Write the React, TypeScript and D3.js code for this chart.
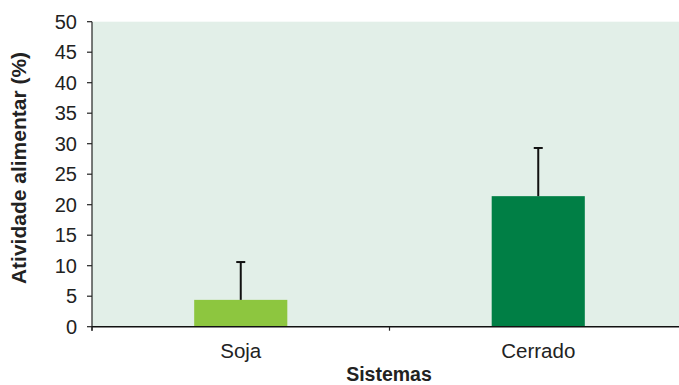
import React from "react";
import * as d3 from "d3";

const categories = ["Soja", "Cerrado"];
const values = [4.4, 21.4];
const errors = [6.2, 7.9];
const barColors = ["#8dc63f", "#007f45"];
const yTicks = [0, 5, 10, 15, 20, 25, 30, 35, 40, 45, 50];

const W = 679;
const H = 385;
const margin = { left: 92, right: -8, top: 21.7, bottom: 58.3 };

export default function App() {
  const x = d3
    .scaleBand()
    .domain(categories)
    .range([margin.left, W - margin.right])
    .paddingInner(0)
    .paddingOuter(0);
  const y = d3.scaleLinear().domain([0, 50]).range([H - margin.bottom, margin.top]);
  const barW = x.bandwidth() * 0.313;
  const y0 = y(0);
  const font = "'Liberation Sans', Arial, sans-serif";

  return (
    <svg
      width={W}
      height={H}
      style={{ position: "absolute", left: 0, top: 0, display: "block" }}
      fontFamily={font}
    >
      <rect x={margin.left} y={margin.top} width={W - margin.left} height={y0 - margin.top} fill="#e2efe8" />
      {categories.map((c, i) => {
        const cx = x(c)! + x.bandwidth() / 2;
        return (
          <g key={c}>
            <rect x={cx - barW / 2} y={y(values[i])} width={barW} height={y0 - y(values[i])} fill={barColors[i]} />
            <line x1={cx} x2={cx} y1={y(values[i])} y2={y(values[i] + errors[i])} stroke="#111" strokeWidth={2} />
            <line x1={cx - 4.5} x2={cx + 4.5} y1={y(values[i] + errors[i])} y2={y(values[i] + errors[i])} stroke="#111" strokeWidth={2} />
            <text x={cx} y={357.5} textAnchor="middle" fontSize={20.5} fill="#222">{c}</text>
          </g>
        );
      })}
      {/* y axis */}
      <line x1={margin.left} x2={margin.left} y1={margin.top} y2={y0 + 4} stroke="#222" strokeWidth={1.2} />
      {yTicks.map((t) => (
        <g key={t}>
          <line x1={margin.left - 5} x2={margin.left} y1={y(t)} y2={y(t)} stroke="#222" strokeWidth={1.2} />
          <text x={77} y={y(t)} dy="0.36em" textAnchor="end" fontSize={20} fill="#222">{t}</text>
        </g>
      ))}
      {/* x axis */}
      <line x1={margin.left} x2={W} y1={y0} y2={y0} stroke="#111" strokeWidth={1.5} />
      {[...categories.map((c) => x(c)!), x.range()[1]].map((bx, i) => (
        <line key={i} x1={bx} x2={bx} y1={y0} y2={y0 + 4} stroke="#222" strokeWidth={1.2} />
      ))}
      <text x={389} y={380.5} textAnchor="middle" fontSize={19.5} fontWeight="bold" fill="#222">Sistemas</text>
      <text
        transform={`translate(26, 168) rotate(-90)`}
        textAnchor="middle"
        fontSize={21}
        fontWeight="bold"
        fill="#222"
      >
        Atividade alimentar (%)
      </text>
    </svg>
  );
}
